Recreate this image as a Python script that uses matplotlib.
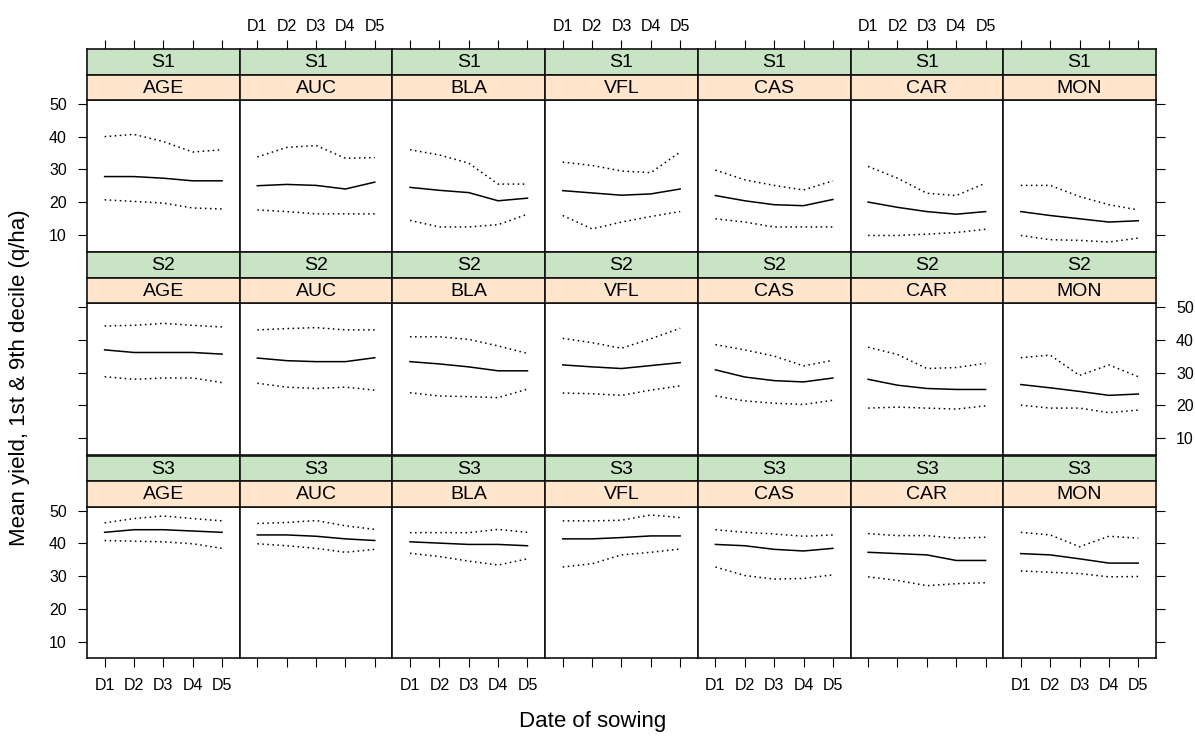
import matplotlib.pyplot as plt

plt.rcParams['font.family'] = ['Liberation Sans', 'DejaVu Sans']

sites = ['AGE', 'AUC', 'BLA', 'VFL', 'CAS', 'CAR', 'MON']
seasons = ['S1', 'S2', 'S3']
dates = ['D1', 'D2', 'D3', 'D4', 'D5']

# mean yield (q/ha), one row per site, one value per sowing date
mean_s1 = [[27.8, 27.8, 27.3, 26.5, 26.5],
           [25.0, 25.4, 25.1, 24.0, 26.1],
           [24.5, 23.6, 22.9, 20.4, 21.2],
           [23.5, 22.8, 22.1, 22.5, 24.0],
           [22.0, 20.4, 19.2, 18.9, 20.8],
           [20.0, 18.4, 17.1, 16.3, 17.1],
           [17.1, 15.9, 14.9, 13.9, 14.3]]
mean_s2 = [[37.0, 36.2, 36.2, 36.2, 35.7],
           [34.5, 33.7, 33.4, 33.4, 34.6],
           [33.4, 32.7, 31.8, 30.6, 30.6],
           [32.4, 31.8, 31.3, 32.2, 33.1],
           [30.9, 28.7, 27.6, 27.2, 28.4],
           [28.0, 26.2, 25.2, 24.9, 24.9],
           [26.4, 25.4, 24.3, 23.1, 23.5]]
mean_s3 = [[43.4, 44.2, 44.2, 43.8, 43.4],
           [42.6, 42.6, 42.2, 41.4, 40.9],
           [40.5, 40.1, 39.7, 39.7, 39.3],
           [41.4, 41.4, 41.8, 42.3, 42.3],
           [39.7, 39.3, 38.2, 37.7, 38.5],
           [37.3, 36.9, 36.5, 34.8, 34.8],
           [36.9, 36.5, 35.3, 34.0, 34.0]]

# 1st decile
d1_s1 = [[20.7, 20.2, 19.7, 18.2, 17.9],
         [17.6, 17.1, 16.4, 16.4, 16.4],
         [14.4, 12.4, 12.4, 13.1, 16.3],
         [15.9, 11.8, 13.9, 15.6, 17.1],
         [14.9, 13.9, 12.4, 12.4, 12.4],
         [9.8, 9.8, 10.2, 10.7, 11.7],
         [9.8, 8.5, 8.3, 7.8, 9.0]]
d1_s2 = [[28.8, 28.0, 28.4, 28.4, 27.0],
         [26.8, 25.6, 25.2, 25.6, 24.7],
         [23.9, 22.9, 22.7, 22.4, 25.0],
         [23.8, 23.6, 23.1, 24.7, 26.0],
         [22.9, 21.4, 20.7, 20.3, 21.6],
         [19.2, 19.5, 19.2, 18.9, 19.9],
         [20.1, 19.2, 19.2, 17.8, 18.6]]
d1_s3 = [[40.9, 40.7, 40.5, 39.9, 38.5],
         [39.9, 39.3, 38.5, 37.3, 38.2],
         [37.0, 36.0, 34.6, 33.4, 35.3],
         [32.8, 33.8, 36.5, 37.3, 38.3],
         [32.8, 30.2, 29.1, 29.3, 30.4],
         [29.8, 28.7, 27.1, 27.7, 28.0],
         [31.6, 31.2, 30.8, 29.8, 29.9]]

# 9th decile
d9_s1 = [[40.0, 40.7, 38.5, 35.3, 36.0],
         [33.8, 36.7, 37.3, 33.4, 33.6],
         [36.0, 34.4, 31.9, 25.5, 25.5],
         [32.2, 31.2, 29.5, 29.0, 35.3],
         [29.8, 26.8, 25.1, 23.7, 26.5],
         [30.9, 27.3, 22.7, 22.0, 25.8],
         [25.1, 25.1, 21.7, 19.2, 17.6]]
d9_s2 = [[44.3, 44.5, 45.1, 44.5, 44.0],
         [43.1, 43.5, 43.8, 43.1, 43.1],
         [41.0, 41.0, 40.2, 38.2, 35.9],
         [40.5, 39.2, 37.5, 40.4, 43.6],
         [38.6, 37.0, 35.1, 32.1, 33.8],
         [37.8, 35.6, 31.3, 31.6, 32.9],
         [34.6, 35.4, 29.2, 32.4, 28.8]]
d9_s3 = [[46.3, 47.6, 48.4, 47.6, 46.9],
         [46.1, 46.4, 47.0, 45.4, 44.3],
         [43.3, 43.3, 43.3, 44.3, 43.4],
         [46.9, 46.9, 47.1, 48.7, 47.9],
         [44.2, 43.4, 42.9, 42.2, 42.6],
         [43.0, 42.4, 42.4, 41.6, 41.9],
         [43.4, 42.6, 39.0, 42.2, 41.6]]

means = [mean_s1, mean_s2, mean_s3]
lows = [d1_s1, d1_s2, d1_s3]
highs = [d9_s1, d9_s2, d9_s3]

W, H = 1195, 736
fig = plt.figure(figsize=(W / 100, H / 100), dpi=100)

x0, pw = 87, 152.7      # panel left, panel width (px)
y0, ph, step = 100, 151.5, 203.4
sh = 25.5               # strip height
green, orange = '#c9e4c5', '#ffe5cc'
edge = '#111111'
xs = list(range(1, len(dates) + 1))
dotted = (0, (1, 2.3))


def frac(left, top, w, h):
    return [left / W, 1 - (top + h) / H, w / W, h / H]


for r, season in enumerate(seasons):
    for c, site in enumerate(sites):
        left = x0 + c * pw
        top = y0 + r * step
        ax = fig.add_axes(frac(left, top, pw, ph))
        ax.plot(xs, means[r][c], color='k', lw=1.1)
        ax.plot(xs, lows[r][c], color='k', lw=1.1, ls=dotted)
        ax.plot(xs, highs[r][c], color='k', lw=1.1, ls=dotted)
        ax.set_xlim(0.4, 5.6)
        ax.set_ylim(4.9, 51.2)
        ax.set_xticks(xs)
        ax.set_xticklabels(dates)
        ax.set_yticks([10, 20, 30, 40, 50])
        for s in ax.spines.values():
            s.set_linewidth(1.2)
            s.set_color(edge)
        ax.tick_params(direction='out', length=6.5, width=0.8, labelsize=11.5,
                       left=False, right=False, top=False, bottom=False,
                       labelleft=False, labelright=False,
                       labeltop=False, labelbottom=False)
        if c == 0:
            ax.tick_params(axis='y', left=True, labelleft=(r != 1), pad=8)
        if c == len(sites) - 1:
            ax.tick_params(axis='y', right=True, labelright=(r == 1), pad=8)
        if r == len(seasons) - 1:
            ax.tick_params(axis='x', bottom=True, labelbottom=(c % 2 == 0), pad=8)

        # strips: season on top (green), site below (orange)
        for k, (txt, col) in enumerate([(season, green), (site, orange)]):
            sa = fig.add_axes(frac(left, top - sh * (2 - k), pw, sh))
            sa.set_facecolor(col)
            sa.set_xlim(0.4, 5.6)
            sa.set_yticks([])
            sa.set_xticks([])
            for s in sa.spines.values():
                s.set_linewidth(1.2)
                s.set_color(edge)
            sa.text(0.5, 0.47, txt, transform=sa.transAxes, ha='center',
                    va='center', fontsize=14)
            if r == 0 and k == 0:
                sa.set_xticks(xs)
                sa.set_xticklabels(dates)
                sa.tick_params(axis='x', direction='out', length=6.5, width=0.8,
                               labelsize=11.5, top=True, bottom=False,
                               labeltop=(c % 2 == 1), labelbottom=False, pad=4)

fig.text(593 / W, 1 - 722 / H, 'Date of sowing', ha='center', va='center',
         fontsize=16)
fig.text(20 / W, 1 - 378 / H, 'Mean yield, 1st & 9th decile (q/ha)',
         rotation=90, ha='center', va='center', fontsize=16)

fig.savefig('out.png', dpi=100)
